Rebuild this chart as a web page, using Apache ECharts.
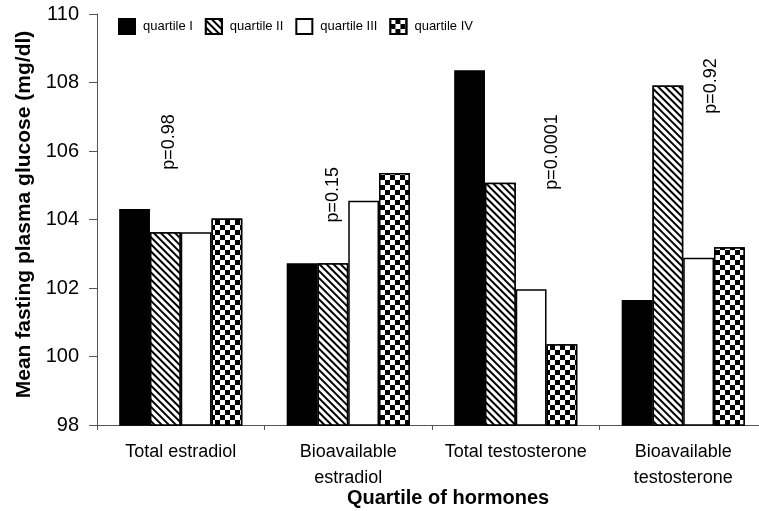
<!DOCTYPE html>
<html>
<head>
<meta charset="utf-8">
<script src="https://cdn.jsdelivr.net/npm/echarts@6/dist/echarts.min.js"></script>
<style>html,body{margin:0;padding:0;background:#fff;}#c{width:759px;height:511px;}</style>
</head>
<body>
<div id="c"></div>
<script>
var categories = ['Total estradiol', 'Bioavailable\nestradiol', 'Total testosterone', 'Bioavailable\ntestosterone'];
var seriesNames = ['quartile I', 'quartile II', 'quartile III', 'quartile IV'];
var quartile1 = [104.31, 102.72, 108.36, 101.65];
var quartile2 = [103.63, 102.72, 105.07, 107.91];
var quartile3 = [103.63, 104.55, 101.96, 102.88];
var quartile4 = [104.03, 105.36, 100.36, 103.19];
var pLabels = ['p=0.98', 'p=0.15', 'p=0.0001', 'p=0.92'];
var pLabelY = [106.26, 104.72, 105.97, 107.90];
var yTicks = [98, 100, 102, 104, 106, 108, 110];

// layout only (horizontal pixel shift of p-value labels from category centre)
var pLabelShiftX = [-12, -15, 36, 28];

var FONT = '"Liberation Sans", Arial, sans-serif';
var values = [quartile1, quartile2, quartile3, quartile4];
var styles = [
  { color: '#000', borderColor: '#000', borderWidth: 1.5 },
  { color: '#fff', borderColor: '#000', borderWidth: 1.5,
    decal: { symbol: 'rect', color: '#000', backgroundColor: '#fff', dashArrayX: [1, 0], dashArrayY: [1.4, 2.1], rotation: Math.PI / 4, symbolSize: 1 } },
  { color: '#fff', borderColor: '#000', borderWidth: 1.5 },
  { color: '#fff', borderColor: '#000', borderWidth: 1.5,
    decal: { symbol: 'rect', color: '#000', backgroundColor: '#fff', dashArrayX: [[4.3, 4.3], [0, 4.3, 4.3, 0]], dashArrayY: [4.3, 0], rotation: 0, symbolSize: 1 } }
];

var series = values.map(function (v, i) {
  return {
    name: seriesNames[i],
    type: 'bar',
    data: v,
    barGap: '0%',
    barCategoryGap: '26.5%',
    itemStyle: styles[i],
    emphasis: { disabled: true },
    animation: false
  };
});

series.push({
  name: 'p',
  type: 'scatter',
  symbolSize: 0,
  itemStyle: { opacity: 1 },
  data: pLabels.map(function (t, i) {
    return {
      name: t,
      value: [i, pLabelY[i]],
      // offset is applied in the rotated frame: local y maps to screen x
      label: { offset: [0, pLabelShiftX[i]] }
    };
  }),
  label: {
    show: true,
    position: 'inside',
    rotate: 90,
    formatter: function (p) { return p.name; },
    color: '#000',
    opacity: 1,
    fontSize: 18,
    fontFamily: FONT
  },
  emphasis: { disabled: true },
  animation: false,
  z: 10
});

var chart = echarts.init(document.getElementById('c'), null, { renderer: 'canvas' });
chart.setOption({
  backgroundColor: '#fff',
  animation: false,
  legend: {
    data: seriesNames,
    left: 113,
    top: 13,
    itemWidth: 16,
    itemHeight: 15,
    itemGap: 12,
    icon: 'rect',
    textStyle: { fontSize: 13, fontFamily: FONT, color: '#000', padding: [0, 0, 0, 3] },
    selectedMode: false
  },
  grid: { left: 97, top: 14, bottom: 86, width: 670, containLabel: false, outerBoundsMode: 'none' },
  xAxis: {
    type: 'category',
    data: categories,
    name: 'Quartile of hormones',
    nameLocation: 'middle',
    nameGap: 63,
    nameMoveOverlap: false,
    nameTextStyle: { fontSize: 20, fontWeight: 'bold', fontFamily: FONT, color: '#000', padding: [0, 0, 0, 32] },
    axisLine: { lineStyle: { color: '#555', width: 1 } },
    axisTick: { show: true, inside: false, length: 5, lineStyle: { color: '#555' } },
    axisLabel: { fontSize: 18, fontFamily: FONT, color: '#000', margin: 14, lineHeight: 26, interval: 0 },
    splitLine: { show: false }
  },
  yAxis: {
    type: 'value',
    min: yTicks[0],
    max: yTicks[yTicks.length - 1],
    interval: yTicks[1] - yTicks[0],
    name: 'Mean fasting plasma glucose (mg/dl)',
    nameLocation: 'middle',
    nameGap: 52,
    nameMoveOverlap: false,
    nameTextStyle: { fontSize: 21, fontWeight: 'bold', fontFamily: FONT, color: '#000', padding: [0, 0, 10, 10] },
    axisLine: { show: true, lineStyle: { color: '#555', width: 1 } },
    axisTick: { show: true, inside: false, length: 8, lineStyle: { color: '#555' } },
    axisLabel: { fontSize: 20, fontFamily: FONT, color: '#000', margin: 18 },
    splitLine: { show: false }
  },
  series: series
});
</script>
</body>
</html>
